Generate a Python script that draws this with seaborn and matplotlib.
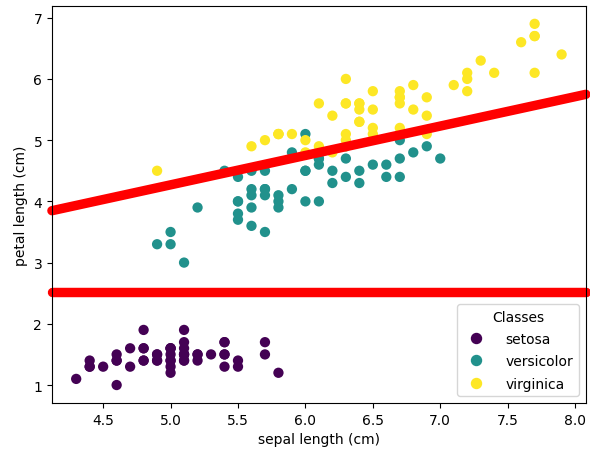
import numpy as np
import pandas as pd
import matplotlib
matplotlib.use("Agg")
import matplotlib.pyplot as plt
from matplotlib.lines import Line2D
import seaborn as sns

# iris: sepal length / petal length, en orden de clase
sepal_setosa = [5.1, 4.9, 4.7, 4.6, 5.0, 5.4, 4.6, 5.0, 4.4, 4.9,
                5.4, 4.8, 4.8, 4.3, 5.8, 5.7, 5.4, 5.1, 5.7, 5.1,
                5.4, 5.1, 4.6, 5.1, 4.8, 5.0, 5.0, 5.2, 5.2, 4.7,
                4.8, 5.4, 5.2, 5.5, 4.9, 5.0, 5.5, 4.9, 4.4, 5.1,
                5.0, 4.5, 4.4, 5.0, 5.1, 4.8, 5.1, 4.6, 5.3, 5.0]
petal_setosa = [1.4, 1.4, 1.3, 1.5, 1.4, 1.7, 1.4, 1.5, 1.4, 1.5,
                1.5, 1.6, 1.4, 1.1, 1.2, 1.5, 1.3, 1.4, 1.7, 1.5,
                1.7, 1.5, 1.0, 1.7, 1.9, 1.6, 1.6, 1.5, 1.4, 1.6,
                1.6, 1.5, 1.5, 1.4, 1.5, 1.2, 1.3, 1.4, 1.3, 1.5,
                1.3, 1.3, 1.3, 1.6, 1.9, 1.4, 1.6, 1.4, 1.5, 1.4]

sepal_versicolor = [7.0, 6.4, 6.9, 5.5, 6.5, 5.7, 6.3, 4.9, 6.6, 5.2,
                    5.0, 5.9, 6.0, 6.1, 5.6, 6.7, 5.6, 5.8, 6.2, 5.6,
                    5.9, 6.1, 6.3, 6.1, 6.4, 6.6, 6.8, 6.7, 6.0, 5.7,
                    5.5, 5.5, 5.8, 6.0, 5.4, 6.0, 6.7, 6.3, 5.6, 5.5,
                    5.5, 6.1, 5.8, 5.0, 5.6, 5.7, 5.7, 6.2, 5.1, 5.7]
petal_versicolor = [4.7, 4.5, 4.9, 4.0, 4.6, 4.5, 4.7, 3.3, 4.6, 3.9,
                    3.5, 4.2, 4.0, 4.7, 3.6, 4.4, 4.5, 4.1, 4.5, 3.9,
                    4.8, 4.0, 4.9, 4.7, 4.3, 4.4, 4.8, 5.0, 4.5, 3.5,
                    3.8, 3.7, 3.9, 5.1, 4.5, 4.5, 4.7, 4.4, 4.1, 4.0,
                    4.4, 4.6, 4.0, 3.3, 4.2, 4.2, 4.2, 4.3, 3.0, 4.1]

sepal_virginica = [6.3, 5.8, 7.1, 6.3, 6.5, 7.6, 4.9, 7.3, 6.7, 7.2,
                   6.5, 6.4, 6.8, 5.7, 5.8, 6.4, 6.5, 7.7, 7.7, 6.0,
                   6.9, 5.6, 7.7, 6.3, 6.7, 7.2, 6.2, 6.1, 6.4, 7.2,
                   7.4, 7.9, 6.4, 6.3, 6.1, 7.7, 6.3, 6.4, 6.0, 6.9,
                   6.7, 6.9, 5.8, 6.8, 6.7, 6.7, 6.3, 6.5, 6.2, 5.9]
petal_virginica = [6.0, 5.1, 5.9, 5.6, 5.8, 6.6, 4.5, 6.3, 5.8, 6.1,
                   5.1, 5.3, 5.5, 5.0, 5.1, 5.3, 5.5, 6.7, 6.9, 5.0,
                   5.7, 4.9, 6.7, 4.9, 5.7, 6.0, 4.8, 4.9, 5.6, 5.8,
                   6.1, 6.4, 5.6, 5.1, 5.6, 6.1, 5.6, 5.5, 4.8, 5.4,
                   5.6, 5.1, 5.1, 5.9, 5.7, 5.2, 5.0, 5.2, 5.4, 5.1]

clases = ['setosa', 'versicolor', 'virginica']
colores = ['#440154', '#21918c', '#fde725']

# fronteras de decision
frontera_h = 2.52           # petal length constante
frontera_a = 1.87           # intercepto de la recta inclinada
frontera_b = 0.48           # pendiente

df = pd.DataFrame({
    'sepal': sepal_setosa + sepal_versicolor + sepal_virginica,
    'petal': petal_setosa + petal_versicolor + petal_virginica,
    'clase': ['setosa'] * 50 + ['versicolor'] * 50 + ['virginica'] * 50,
})

fig = plt.figure(figsize=(5.9, 4.52), dpi=100)
ax = fig.add_axes([0.088, 0.106, 0.905, 0.879])

sns.scatterplot(data=df, x='sepal', y='petal', hue='clase', hue_order=clases,
                palette=colores, s=55, linewidth=0, ax=ax, legend=False)

xlim = ax.get_xlim()
ylim = ax.get_ylim()
xx = np.array(xlim)
ax.plot(xx, [frontera_h, frontera_h], color='red', lw=6.8,
        solid_capstyle='round', clip_on=False)
ax.plot(xx, frontera_a + frontera_b * xx, color='red', lw=6.8,
        solid_capstyle='round', clip_on=False)
ax.set_xlim(xlim)
ax.set_ylim(ylim)

ax.set_xlabel('sepal length (cm)')
ax.set_ylabel('petal length (cm)')

handles = [Line2D([], [], marker='o', linestyle='', color=c, markersize=7.2)
           for c in colores]
ax.legend(handles, clases, title='Classes', loc='lower right',
          handletextpad=1.1, labelspacing=0.6)

fig.savefig('out.png', dpi=100)
